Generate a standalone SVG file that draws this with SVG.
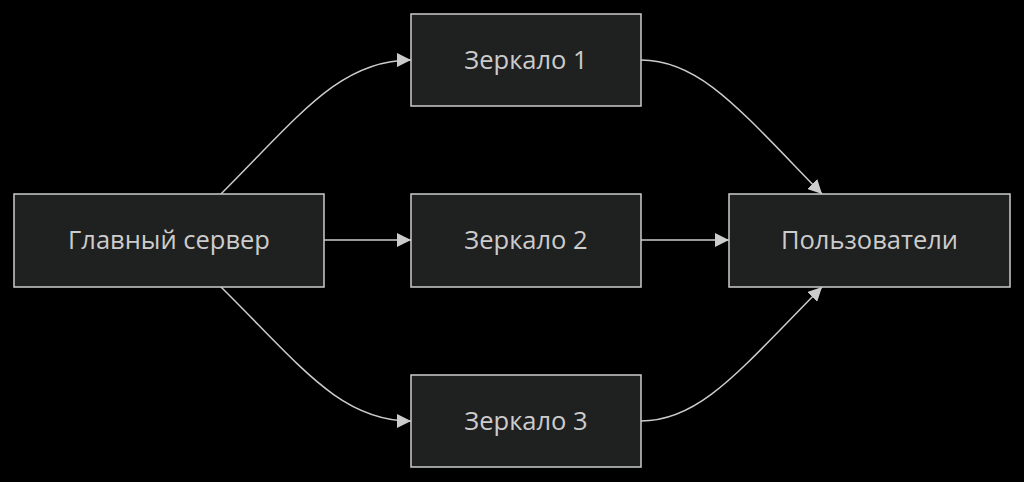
<svg xmlns="http://www.w3.org/2000/svg" width="1024" height="482" viewBox="0 0 1024 482">
<style>
.n rect{fill:#1f2020;stroke:#cccccc;stroke-width:1.5}
.n text{fill:#cccccc;font-family:"Open Sans","Noto Sans",sans-serif;font-size:25.5px;text-anchor:middle;dominant-baseline:central}
#edges path{fill:none;stroke:#cccccc;stroke-width:1.5;marker-end:url(#a)}
</style>
<defs><marker id="a" viewBox="0 0 10 10" refX="10" refY="5" markerWidth="14" markerHeight="14" markerUnits="userSpaceOnUse" orient="auto"><path d="M0,0L10,5L0,10z" fill="#cccccc"/></marker></defs>
<rect width="1024" height="482" fill="#000"/>
<g id="edges">
<path d="M221,194C300,115 340,60 411,60"/>
<path d="M324,240L411,240"/>
<path d="M221,287C300,365 340,421 411,421"/>
<path d="M641,60C700,60 740,110 822,194"/>
<path d="M641,240L729,240"/>
<path d="M641,421C700,421 740,370 822,287"/>
</g>
<g id="main" class="n"><rect x="14" y="194" width="310" height="93"/><text x="169" y="239">Главный сервер</text></g>
<g id="m1" class="n"><rect x="411" y="14" width="230" height="92"/><text x="526" y="58.5">Зеркало 1</text></g>
<g id="m2" class="n"><rect x="411" y="194" width="230" height="93"/><text x="526" y="239">Зеркало 2</text></g>
<g id="m3" class="n"><rect x="411" y="375" width="230" height="92"/><text x="526" y="419.5">Зеркало 3</text></g>
<g id="users" class="n"><rect x="729" y="194" width="281" height="93"/><text x="869.5" y="239">Пользователи</text></g>
</svg>
